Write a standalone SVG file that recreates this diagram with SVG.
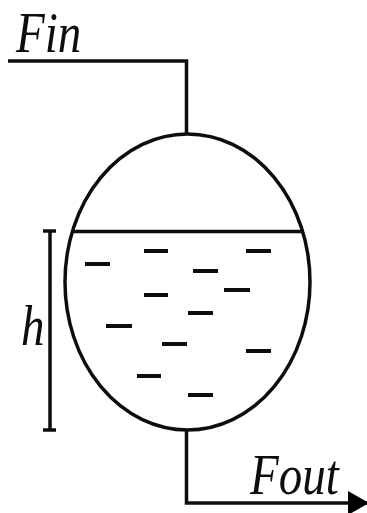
<svg xmlns="http://www.w3.org/2000/svg" width="367" height="513" viewBox="0 0 367 513">
<style>
.s{fill:none;stroke:#111;stroke-width:3.5}
.d{stroke:#111;stroke-width:4;fill:none}
.t{font-family:"Liberation Serif","Times New Roman",serif;font-style:italic;font-size:47px;fill:#111}
</style>
<defs>
<filter id="b" x="-5%" y="-5%" width="110%" height="110%"><feGaussianBlur stdDeviation="0.5"/></filter>
<marker id="a" markerUnits="userSpaceOnUse" markerWidth="21" markerHeight="26" refX="21" refY="13" orient="auto"><path d="M0 1L21 13L0 25Z" fill="#000"/></marker>
</defs>
<rect width="367" height="513" fill="#fff"/>
<g filter="url(#b)">
<g id="vessel">
<ellipse class="s" cx="187.500" cy="282" rx="122.500" ry="148"/>
<path class="s" d="M73 231.500H302"/>
</g>
<g id="bubbles">
<path class="d" d="M144 251h24M246 251h25M85 264h25M193 271h25M224 290h26M144 295h24M188 313h25M106 326h26M162 344h25M246 351h25M137 376h24M188 395h25"/>
</g>
<g id="connectors">
<path class="s" d="M8 61H186.500V134"/>
<path class="s" d="M186.500 430V503H369" marker-end="url(#a)"/>
<path class="s" d="M50 231V430M43 231H56M43 430H56"/>
</g>
<g id="labels">
<text class="t" transform="translate(16 52) scale(1 1.22)">Fin</text>
<text class="t" transform="translate(250 494) scale(1 1.22)">Fout</text>
<text class="t" transform="translate(21 345) scale(1 1.22)">h</text>
</g>
</g>
</svg>
